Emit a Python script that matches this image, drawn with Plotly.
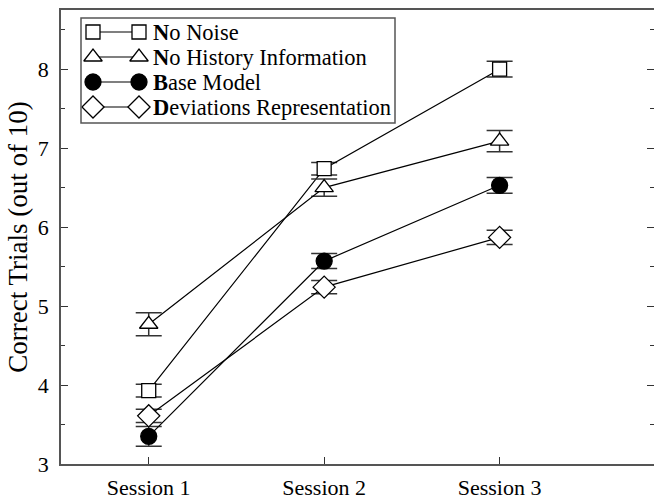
import plotly.graph_objects as go

sessions = [1, 2, 3]
session_labels = ["Session 1", "Session 2", "Session 3"]
y_ticks = [3, 4, 5, 6, 7, 8]

series_names = ["<b>N</b>o Noise", "<b>N</b>o History Information",
                "<b>B</b>ase Model", "<b>D</b>eviations Representation"]
no_noise = [3.93, 6.74, 8.00]
no_noise_err = [0.08, 0.08, 0.10]
no_history = [4.77, 6.50, 7.09]
no_history_err = [0.145, 0.11, 0.135]
base_model = [3.35, 5.57, 6.53]
base_model_err = [0.125, 0.095, 0.10]
deviations = [3.61, 5.24, 5.87]
deviations_err = [0.085, 0.085, 0.09]

values = [no_noise, no_history, base_model, deviations]
errors = [no_noise_err, no_history_err, base_model_err, deviations_err]
symbols = ["square", "triangle-up", "circle", "diamond"]
fills = ["white", "white", "black", "white"]
sizes = [14, 16, 16, 17]

FONT = "Liberation Serif, Times New Roman, serif"

# figure geometry (pixels)
W, H = 654, 500
ML, MR, MT, MB = 61, 0, 10, 36

fig = go.Figure()
for name, v, e, sym, fc, sz in zip(series_names, values, errors, symbols, fills, sizes):
    fig.add_trace(go.Scatter(
        x=sessions, y=v, name=name, mode="lines+markers", showlegend=False,
        line=dict(color="black", width=1.2),
        marker=dict(symbol=sym, size=sz, color=fc,
                    line=dict(color="black", width=1.3)),
        error_y=dict(type="data", array=e, visible=True, color="#333333",
                     thickness=1.5, width=13),
    ))

fig.update_layout(
    width=W, height=H,
    margin=dict(l=ML, r=MR, t=MT, b=MB, autoexpand=False),
    plot_bgcolor="white", paper_bgcolor="white",
    font=dict(family=FONT, size=21, color="black"),
    showlegend=False,
)
fig.update_xaxes(
    range=[0.5, 3.88], tickmode="array", tickvals=sessions, ticktext=session_labels,
    ticks="inside", ticklen=7, tickcolor="#333333", tickwidth=1.2,
    showline=True, linecolor="#555555", linewidth=1.5, mirror=True,
    showgrid=False, zeroline=False, tickfont=dict(size=22, family=FONT),
    automargin=False, ticklabelstandoff=3,
)
fig.update_yaxes(
    range=[3, 8.75], tickmode="array", tickvals=y_ticks,
    ticks="inside", ticklen=7, tickcolor="#333333", tickwidth=1.2,
    minor=dict(ticks="inside", ticklen=4, dtick=0.5, tickcolor="#333333"),
    showline=True, linecolor="#555555", linewidth=1.5, mirror="ticks",
    showgrid=False, zeroline=False, tickfont=dict(size=22, family=FONT),
    title=dict(text="Correct Trials (out of 10)", font=dict(size=27, family=FONT), standoff=2),
    ticklabelstandoff=6, automargin=False,
)

# custom legend on an overlay axis measured in pixels (two markers per key, like the original)
fig.update_layout(
    xaxis2=dict(overlaying="x", range=[ML, W - MR], visible=False, fixedrange=True),
    yaxis2=dict(overlaying="y", range=[H - MB, MT], visible=False, fixedrange=True),
)
leg_left, leg_right, leg_top, leg_bottom = 81, 395, 18, 123
key_x0, key_x1, text_x = 93, 139, 151
row_y0, row_dy = 32, 25
for i, (name, sym, fc, sz) in enumerate(zip(series_names, symbols, fills, sizes)):
    yy = row_y0 + i * row_dy
    fig.add_trace(go.Scatter(
        x=[key_x0, key_x1], y=[yy, yy], xaxis="x2", yaxis="y2",
        mode="lines+markers", showlegend=False, hoverinfo="skip",
        line=dict(color="black", width=1.2),
        marker=dict(symbol=sym, size=sz, color=fc, line=dict(color="black", width=1.3)),
    ))
    fig.add_annotation(x=text_x, y=yy, xref="x2", yref="y2", text=name,
                       showarrow=False, xanchor="left", yanchor="middle",
                       font=dict(family=FONT, size=22.5, color="black"))

fig.add_shape(type="rect", xref="x2", yref="y2",
              x0=leg_left, x1=leg_right, y0=leg_top, y1=leg_bottom,
              line=dict(color="#555555", width=1.5), fillcolor="rgba(0,0,0,0)", layer="above")

fig.write_html("out.html", config={"displayModeBar": False},
               post_script="document.body.style.margin='0';document.body.style.overflow='hidden';")
